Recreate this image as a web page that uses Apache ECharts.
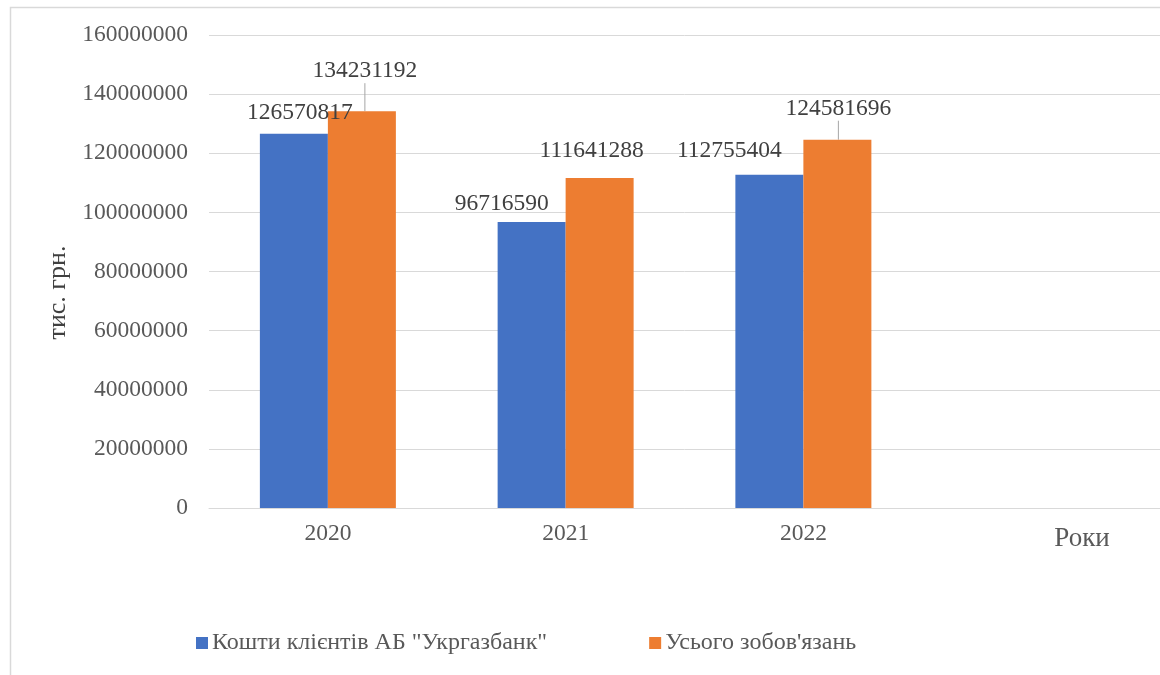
<!DOCTYPE html>
<html>
<head>
<meta charset="utf-8">
<script src="https://cdn.jsdelivr.net/npm/echarts@6/dist/echarts.min.js"></script>
<style>
  html, body { margin: 0; padding: 0; background: #fff; }
  #chart { width: 1160px; height: 675px; }
</style>
</head>
<body>
<div id="chart"></div>
<script>
// Years on the category axis (last slot left empty, as in the report layout)
const years = ['2020', '2021', '2022', ''];

// Values, тис. грн.
const clientFunds = [126570817, 96716590, 112755404];   // Кошти клієнтів АБ "Укргазбанк"
const totalLiabilities = [134231192, 111641288, 124581696]; // Усього зобов'язань

const seriesNames = ['Кошти клієнтів АБ "Укргазбанк"', "Усього зобов'язань"];

// Y axis ticks
const yMin = 0;
const yMax = 160000000;
const yStep = 20000000;

// Manual nudges of the value labels (dx, dy in px)
const clientLabelShift = [[6, -4], [-30, -1], [-40, -7]];
const totalLabelShift = [[3, -23], [-8, -10], [1, -14]];
// Which value labels of the total series get a leader line
const totalLeader = [true, false, true];

const FONT = "'Liberation Serif', 'Times New Roman', serif";

const chart = echarts.init(document.getElementById('chart'), null, { renderer: 'canvas' });

const labelStyle = {
  show: true,
  position: 'top',
  distance: 5,
  fontFamily: FONT,
  fontSize: 23.5,
  color: '#404040'
};

chart.setOption({
  animation: false,
  backgroundColor: '#ffffff',
  graphic: [{
    type: 'rect',
    left: 8, top: 5,
    shape: { width: 1200, height: 720 },
    style: { fill: 'none', stroke: '#d9d9d9', lineWidth: 1.5 },
    silent: true,
    z: -1
  }],
  grid: { left: 209, top: 35, width: 952, height: 473, containLabel: false },
  legend: {
    left: 191,
    top: 626,
    itemWidth: 12,
    itemHeight: 12,
    itemGap: 102,
    icon: 'rect',
    textStyle: { fontFamily: FONT, fontSize: 24, color: '#595959', padding: [0, 0, 0, -1] },
    data: seriesNames
  },
  xAxis: {
    type: 'category',
    data: years,
    axisLine: { show: true, lineStyle: { color: '#d9d9d9', width: 1 } },
    axisTick: { show: false },
    axisLabel: { fontFamily: FONT, fontSize: 23.5, color: '#595959', margin: 14 },
    name: 'Роки',
    nameLocation: 'end',
    nameGap: -78,
    nameTextStyle: {
      fontFamily: FONT, fontSize: 27, color: '#595959',
      align: 'center', verticalAlign: 'top', lineHeight: 62
    }
  },
  yAxis: {
    type: 'value',
    min: yMin,
    max: yMax,
    interval: yStep,
    axisLine: { show: false },
    axisTick: { show: false },
    splitLine: { lineStyle: { color: '#d9d9d9', width: 1 } },
    axisLabel: {
      fontFamily: FONT, fontSize: 23.5, color: '#595959', margin: 21,
      formatter: function (v) { return String(v); }
    },
    name: 'тис. грн.',
    nameLocation: 'middle',
    nameGap: 112,
    nameTextStyle: {
      fontFamily: FONT, fontSize: 26, color: '#404040',
      padding: [0, 42, 0, 0]
    }
  },
  series: [
    {
      name: seriesNames[0],
      type: 'bar',
      data: clientFunds,
      barWidth: 68,
      barGap: '0%',
      itemStyle: { color: '#4472C4' },
      label: labelStyle,
      labelLayout: function (p) {
        const s = clientLabelShift[p.dataIndex] || [0, 0];
        return { dx: s[0], dy: s[1] };
      }
    },
    {
      name: seriesNames[1],
      type: 'bar',
      data: totalLiabilities.map(function (v, i) {
        return { value: v, labelLine: { show: totalLeader[i] } };
      }),
      barWidth: 68,
      barGap: '0%',
      itemStyle: { color: '#ED7D31' },
      label: labelStyle,
      labelLine: { show: true, lineStyle: { color: '#a6a6a6', width: 1 } },
      labelLayout: function (p) {
        const s = totalLabelShift[p.dataIndex] || [0, 0];
        return { dx: s[0], dy: s[1] };
      }
    }
  ]
});
</script>
</body>
</html>
